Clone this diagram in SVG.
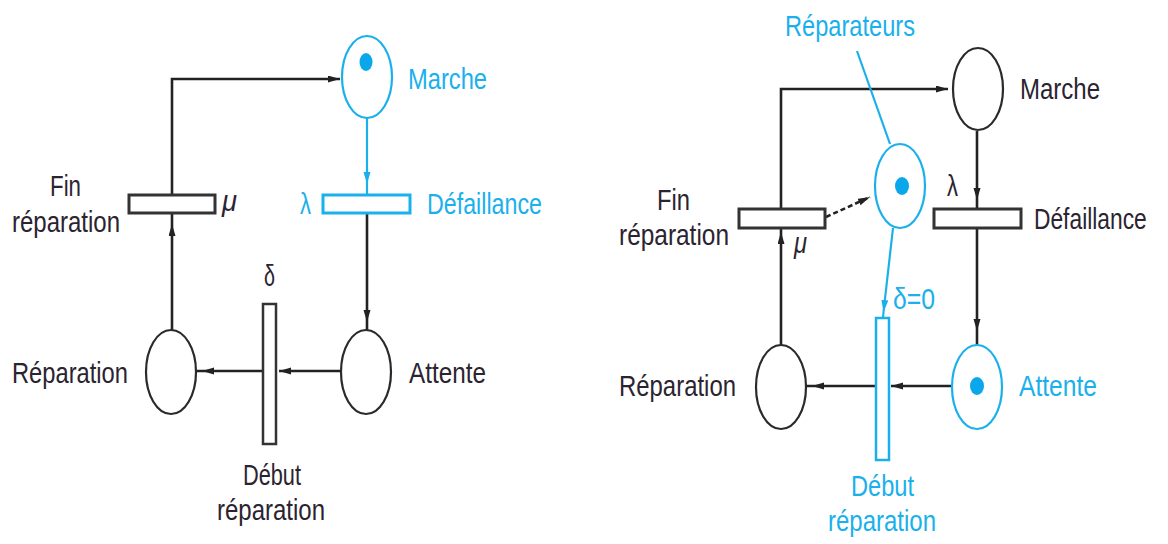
<svg xmlns="http://www.w3.org/2000/svg" width="1168" height="544" viewBox="0 0 1168 544">
<defs>
<style>
.k{fill:none;stroke:#222;stroke-width:2.6}
.c{fill:none;stroke:#1ab0ec;stroke-width:2.2}
.pk{fill:#fff;stroke:#2a2a2a;stroke-width:2.2}
.pc{fill:#fff;stroke:#1ab0ec;stroke-width:2.2}
.tk{fill:#fff;stroke:#333;stroke-width:3}
.tc{fill:#fff;stroke:#1ab0ec;stroke-width:3}
.tok{fill:#0aa8ea;stroke:none}
.dash{stroke-dasharray:5 3}
text{font-family:"Liberation Sans Narrow","Liberation Sans",Arial,sans-serif;font-size:30px}
.lk{fill:#2b2430}
.lc{fill:#1ab0ec}
</style>
<marker id="ak" markerUnits="userSpaceOnUse" markerWidth="14" markerHeight="10" refX="12" refY="3.5" orient="auto"><path d="M0,0 L12,3.5 L0,7 z" fill="#222"/></marker>
<marker id="ac" markerUnits="userSpaceOnUse" markerWidth="14" markerHeight="10" refX="12" refY="3.5" orient="auto"><path d="M0,0 L12,3.5 L0,7 z" fill="#1ab0ec"/></marker>
</defs>
<rect width="1168" height="544" fill="#fff"/>

<g id="connectors">
<path class="k" d="M172,195 V79 H340" marker-end="url(#ak)"/>
<path class="k" d="M172,213 V224 M172,330 V224" marker-end="url(#ak)"/>
<path class="c" d="M367,195 V184 M367,118 V184" marker-end="url(#ac)"/>
<path class="k" d="M367,330 V322 M367,213 V322" marker-end="url(#ak)"/>
<path class="k" d="M341,371 H279" marker-end="url(#ak)"/>
<path class="k" d="M196,371 H202 M263,371 H202" marker-end="url(#ak)"/>
<path class="k" d="M781,209 V89 H948" marker-end="url(#ak)"/>
<path class="k" d="M781,228 V232 M781,345 V232" marker-end="url(#ak)"/>
<path class="k dash" d="M826,217 L870,197" marker-end="url(#ak)"/>
<path class="k" d="M977,209 V200 M977,131 V200" marker-end="url(#ak)"/>
<path class="k" d="M977,345 V331 M977,228 V331" marker-end="url(#ak)"/>
<path class="k" d="M951,386 H891" marker-end="url(#ak)"/>
<path class="k" d="M806,386 H812 M876,386 H812" marker-end="url(#ak)"/>
<path class="c" d="M883,318 L883.5,312 M893,228 L883.5,312" marker-end="url(#ac)"/>
<path class="c" d="M857,51 L890,144"/>
</g>

<g id="L_marche">
<ellipse class="pc" cx="367" cy="77" rx="25" ry="41"/>
<ellipse class="tok" cx="366" cy="62" rx="6.5" ry="9"/>
<text class="lc" x="408" y="89" textLength="79" lengthAdjust="spacingAndGlyphs">Marche</text>
</g>
<g id="L_defaillance">
<rect class="tc" x="323" y="195" width="87" height="18"/>
<text class="lc" x="300" y="214" textLength="11" lengthAdjust="spacingAndGlyphs">λ</text>
<text class="lc" x="427" y="214" textLength="115" lengthAdjust="spacingAndGlyphs">Défaillance</text>
</g>
<g id="L_fin">
<rect class="tk" x="129" y="195" width="86" height="18"/>
<text class="lk" x="222" y="211" textLength="15" lengthAdjust="spacingAndGlyphs" font-style="italic">μ</text>
<text class="lk" x="50" y="196" textLength="31" lengthAdjust="spacingAndGlyphs">Fin</text>
<text class="lk" x="12" y="232" textLength="108" lengthAdjust="spacingAndGlyphs">réparation</text>
</g>
<g id="L_attente">
<ellipse class="pk" cx="366" cy="372" rx="25" ry="42"/>
<text class="lk" x="409" y="383" textLength="77" lengthAdjust="spacingAndGlyphs">Attente</text>
</g>
<g id="L_reparation">
<ellipse class="pk" cx="171" cy="372" rx="25" ry="42"/>
<text class="lk" x="12" y="383" textLength="116" lengthAdjust="spacingAndGlyphs">Réparation</text>
</g>
<g id="L_debut">
<rect class="tk" x="263" y="304" width="13" height="140" style="stroke-width:2.5"/>
<text class="lk" x="264" y="286" textLength="11" lengthAdjust="spacingAndGlyphs">δ</text>
<text class="lk" x="243" y="485" textLength="58" lengthAdjust="spacingAndGlyphs">Début</text>
<text class="lk" x="217" y="520" textLength="108" lengthAdjust="spacingAndGlyphs">réparation</text>
</g>

<g id="R_marche">
<ellipse class="pk" cx="978" cy="89" rx="25" ry="41"/>
<text class="lk" x="1020" y="99" textLength="80" lengthAdjust="spacingAndGlyphs">Marche</text>
</g>
<g id="R_reparateurs">
<ellipse class="pc" cx="900" cy="186" rx="25" ry="42"/>
<ellipse class="tok" cx="902" cy="186" rx="7" ry="9"/>
<text class="lc" x="785" y="36" textLength="130" lengthAdjust="spacingAndGlyphs">Réparateurs</text>
</g>
<g id="R_fin">
<rect class="tk" x="739" y="209" width="86" height="19"/>
<text class="lk" x="794" y="253" textLength="13" lengthAdjust="spacingAndGlyphs" font-style="italic">μ</text>
<text class="lk" x="657" y="210" textLength="33" lengthAdjust="spacingAndGlyphs">Fin</text>
<text class="lk" x="619" y="245" textLength="110" lengthAdjust="spacingAndGlyphs">réparation</text>
</g>
<g id="R_defaillance">
<rect class="tk" x="934" y="209" width="87" height="19"/>
<text class="lk" x="947" y="196" textLength="11" lengthAdjust="spacingAndGlyphs">λ</text>
<text class="lk" transform="translate(1034,229) scale(0.76,1)" x="0" y="0">Défaillance</text>
</g>
<g id="R_attente">
<ellipse class="pc" cx="977" cy="387" rx="25" ry="42"/>
<ellipse class="tok" cx="977" cy="386" rx="7" ry="9"/>
<text class="lc" x="1019" y="396" textLength="78" lengthAdjust="spacingAndGlyphs">Attente</text>
</g>
<g id="R_reparation">
<ellipse class="pk" cx="781" cy="387" rx="25" ry="42"/>
<text class="lk" x="619" y="396" textLength="117" lengthAdjust="spacingAndGlyphs">Réparation</text>
</g>
<g id="R_debut">
<rect class="tc" x="876" y="318" width="13" height="142" style="stroke-width:2.5"/>
<text class="lc" x="893" y="309" textLength="42" lengthAdjust="spacingAndGlyphs">δ=0</text>
<text class="lc" x="851" y="496" textLength="63" lengthAdjust="spacingAndGlyphs">Début</text>
<text class="lc" x="828" y="531" textLength="108" lengthAdjust="spacingAndGlyphs">réparation</text>
</g>
</svg>
